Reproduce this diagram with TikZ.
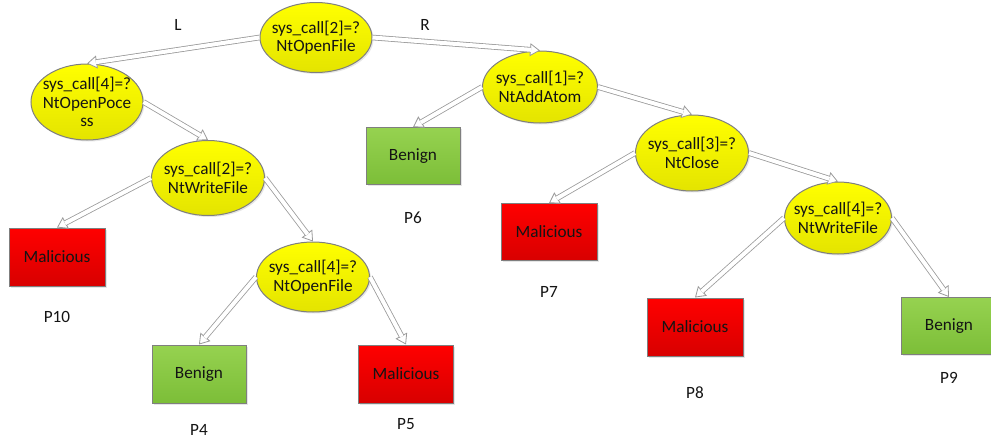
\documentclass[tikz,border=0pt]{standalone}
\usepackage{fontspec}
\setmainfont{Carlito}
\usetikzlibrary{shapes.geometric,arrows.meta,shadows}
\definecolor{ylwtop}{HTML}{FFFF00}
\definecolor{ylwbot}{HTML}{E4E400}
\definecolor{redtop}{HTML}{FF0000}
\definecolor{redbot}{HTML}{D80000}
\definecolor{grntop}{HTML}{96D250}
\definecolor{grnbot}{HTML}{7CBE38}
\definecolor{edgegray}{HTML}{7F7F7F}
\definecolor{arrgray}{HTML}{9A9A9A}
\definecolor{txt}{HTML}{141414}
\newcommand{\barrow}[2]{%
  \draw[tipln] (#1) -- (#2);
  \draw[shaft] (#1) -- (#2);}
\begin{document}
\begin{tikzpicture}[x=1pt,y=-1pt,
  every node/.style={font=\fontsize{17.2}{18.5}\selectfont, text=txt},
  dec/.style={ellipse, draw=edgegray, line width=1pt, top color=ylwtop, bottom color=ylwbot,
    minimum width=112pt, minimum height=72pt, inner xsep=-12pt, inner ysep=-2pt, align=center,
    drop shadow={opacity=0.2, shadow xshift=1.5pt, shadow yshift=-1.5pt}},
  leafbox/.style={rectangle, draw=edgegray, line width=1pt, minimum width=96pt, minimum height=58pt,
    inner sep=0pt, drop shadow={opacity=0.2, shadow xshift=1.5pt, shadow yshift=-1.5pt}},
  mal/.style={leafbox, top color=redtop, bottom color=redbot},
  ben/.style={leafbox, top color=grntop, bottom color=grnbot},
  lbl/.style={inner sep=0pt},
  tipln/.style={draw=arrgray, line width=0.8pt, -{Triangle[length=10pt,width=13pt,fill=white]}},
  shaft/.style={draw=arrgray, line width=0.8pt, double=white, double distance=4pt, shorten >=9pt}
]
\useasboundingbox (0,0) rectangle (991,442);
% decision nodes
\node[dec, minimum width=112pt, minimum height=70pt] (root) at (316,37.5) {sys\_call[2]=?\\NtOpenFile};
\node[dec, minimum width=112pt, minimum height=76pt] (n4a) at (87,102) {sys\_call[4]=?\\NtOpenPoce\\ss};
\node[dec, minimum width=113pt, minimum height=75pt] (n2w) at (208,178) {sys\_call[2]=?\\NtWriteFile};
\node[dec, minimum width=113pt, minimum height=70pt] (n4o) at (313,277) {sys\_call[4]=?\\NtOpenFile};
\node[dec, minimum width=115pt, minimum height=72pt] (n1) at (540,87) {sys\_call[1]=?\\NtAddAtom};
\node[dec, minimum width=113pt, minimum height=76pt] (n3) at (692,153) {sys\_call[3]=?\\NtClose};
\node[dec, minimum width=107pt, minimum height=72pt] (n4w) at (838,218) {sys\_call[4]=?\\NtWriteFile};
% leaves
\node[mal] (p10) at (57,257) {Malicious};
\node[ben, minimum width=94pt] (p4) at (199,374) {Benign};
\node[mal, minimum width=95pt] (p5) at (406,374) {Malicious};
\node[ben, minimum width=94pt, minimum height=57pt] (p6) at (413,156) {Benign};
\node[mal, minimum height=57pt] (p7) at (549,232) {Malicious};
\node[mal] (p8) at (695,327) {Malicious};
\node[ben, minimum height=57pt] (p9) at (949,326) {Benign};
% labels
\node[lbl] (lL) at (178,25) {L};
\node[lbl] (lR) at (425,25) {R};
\node[lbl] (t10) at (57,317) {P10};
\node[lbl] (t4) at (199,430) {P4};
\node[lbl] (t5) at (406,424) {P5};
\node[lbl] (t6) at (413,218) {P6};
\node[lbl] (t7) at (549,292) {P7};
\node[lbl] (t8) at (695,393) {P8};
\node[lbl] (t9) at (949,378) {P9};
% connectors
\barrow{root.west}{n4a.north}
\barrow{root.east}{n1.north}
\barrow{n4a.east}{n2w.north}
\barrow{n2w.west}{p10.north}
\barrow{n2w.east}{n4o.north}
\barrow{n4o.west}{p4.north}
\barrow{n4o.east}{p5.north}
\barrow{n1.west}{p6.north}
\barrow{n1.east}{n3.north}
\barrow{n3.west}{p7.north}
\barrow{n3.east}{n4w.north}
\barrow{n4w.west}{p8.north}
\barrow{n4w.east}{p9.north}
\end{tikzpicture}
\end{document}
